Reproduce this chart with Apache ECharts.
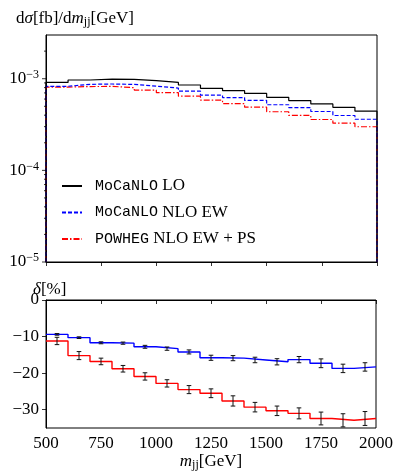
<!DOCTYPE html>
<html>
<head>
<meta charset="utf-8">
<script src="https://cdn.jsdelivr.net/npm/echarts@6/dist/echarts.min.js"></script>
<style>
  html, body { margin: 0; padding: 0; background: #ffffff; }
  #chart { width: 396px; height: 473px; }
</style>
</head>
<body>
<div id="chart"></div>
<script>
// Bin edges of the m_jj histogram (GeV)
const binEdges = [500, 600, 700, 800, 900, 1000, 1100, 1200, 1300, 1400, 1500, 1600, 1700, 1800, 1900, 2000];

// dσ/dm_jj [fb/GeV] per bin
const loXsec = [9.12e-4, 9.68e-4, 9.92e-4, 9.83e-4, 9.51e-4, 9.12e-4, 8.54e-4, 7.85e-4, 7.41e-4, 6.92e-4, 6.26e-4, 5.77e-4, 5.31e-4, 4.88e-4, 4.42e-4];
const nloEwXsec = [8.27e-4, 8.68e-4, 8.76e-4, 8.67e-4, 8.29e-4, 7.91e-4, 7.33e-4, 6.61e-4, 6.23e-4, 5.79e-4, 5.20e-4, 4.83e-4, 4.39e-4, 3.97e-4, 3.61e-4];
const powhegXsec = [8.10e-4, 8.21e-4, 8.25e-4, 7.98e-4, 7.52e-4, 7.04e-4, 6.45e-4, 5.85e-4, 5.36e-4, 4.89e-4, 4.36e-4, 3.98e-4, 3.59e-4, 3.27e-4, 2.99e-4];

// Relative corrections δ [%] with their uncertainties
const deltaNloEw = [-9.4, -10.3, -11.7, -11.8, -12.8, -13.3, -14.2, -15.8, -15.9, -16.4, -16.9, -16.3, -17.3, -18.7, -18.3];
const deltaNloEwErr = [0.23, 0.23, 0.27, 0.3, 0.4, 0.45, 0.55, 0.7, 0.7, 0.75, 0.85, 0.85, 1.2, 1.15, 1.15];
const deltaPowheg = [-11.2, -15.2, -16.8, -18.8, -20.9, -22.8, -24.5, -25.5, -27.6, -29.3, -30.3, -31.0, -32.4, -32.9, -32.4];
const deltaPowhegErr = [1.0, 1.1, 0.9, 0.9, 1.0, 1.0, 1.1, 1.2, 1.4, 1.3, 1.3, 1.5, 1.75, 1.8, 1.9];

// Log-axis ticks of the upper panel
const logMajorTicks = [1e-5, 1e-4, 1e-3];
const logMinorTicks = [2e-5, 3e-5, 4e-5, 5e-5, 6e-5, 7e-5, 8e-5, 9e-5,
                       2e-4, 3e-4, 4e-4, 5e-4, 6e-4, 7e-4, 8e-4, 9e-4, 2e-3];
const deltaTicks = [0, -10, -20, -30];

const SERIF = '"Liberation Serif", "DejaVu Serif", serif';
const MONO = '"Liberation Mono", "DejaVu Sans Mono", monospace';
const FS = 17;

// histogram outline (step) points; optional floor closes the outer edges
function stepPoints(values, floor) {
  const pts = [];
  if (floor !== undefined) pts.push([binEdges[0], floor]);
  values.forEach((v, i) => pts.push([binEdges[i], v]));
  pts.push([binEdges[binEdges.length - 1], values[values.length - 1]]);
  if (floor !== undefined) pts.push([binEdges[binEdges.length - 1], floor]);
  return pts;
}
const binCenters = binEdges.slice(0, -1).map((e, i) => (e + binEdges[i + 1]) / 2);

function errorBarItem(params, api) {
  const x = api.value(0), y = api.value(1), e = api.value(2);
  const hi = api.coord([x, y + e]);
  const lo = api.coord([x, y - e]);
  const cap = 2.3;
  const style = { stroke: '#111', lineWidth: 1 };
  return {
    type: 'group',
    children: [
      { type: 'line', shape: { x1: hi[0], y1: hi[1], x2: lo[0], y2: lo[1] }, style },
      { type: 'line', shape: { x1: hi[0] - cap, y1: hi[1], x2: hi[0] + cap, y2: hi[1] }, style },
      { type: 'line', shape: { x1: lo[0] - cap, y1: lo[1], x2: lo[0] + cap, y2: lo[1] }, style }
    ]
  };
}

function logTickItem(params, api) {
  const p = api.coord([binEdges[0], api.value(0)]);
  const len = api.value(1);
  return {
    type: 'line',
    shape: { x1: p[0] - len, y1: p[1], x2: p[0], y2: p[1] },
    style: { stroke: '#000', lineWidth: 0.8 }
  };
}

const legendText = {
  'LO': '{sp|}{tt|MoCaNLO}{rm| LO}',
  'NLO EW': '{sp|}{tt|MoCaNLO}{rm| NLO EW}',
  'PS': '{sp|}{tt|POWHEG}{rm| NLO EW + PS}'
};

const chart = echarts.init(document.getElementById('chart'), null, { renderer: 'canvas' });

chart.setOption({
  animation: false,
  backgroundColor: '#ffffff',
  textStyle: { fontFamily: SERIF },
  title: [
    {
      text: 'd{i|σ}[fb]/d{i|m}{sub|jj}[GeV]',
      left: 11, top: 4,
      textStyle: {
        fontFamily: SERIF, fontSize: FS, fontWeight: 'normal', color: '#000',
        rich: {
          i: { fontFamily: SERIF, fontSize: FS, fontStyle: 'italic', color: '#000' },
          sub: { fontFamily: SERIF, fontSize: 12, color: '#000', padding: [7, 0, 0, 0] }
        }
      }
    },
    {
      text: '{i|δ}[%]',
      left: 28, top: 276,
      textStyle: {
        fontFamily: SERIF, fontSize: FS, fontWeight: 'normal', color: '#000',
        rich: { i: { fontFamily: SERIF, fontSize: FS, fontStyle: 'italic', color: '#000' } }
      }
    }
  ],
  legend: {
    data: ['LO', 'NLO EW', 'PS'],
    orient: 'vertical',
    left: 61, top: 176,
    padding: 0,
    itemWidth: 20, itemHeight: 14,
    itemGap: 6.5,
    itemStyle: { opacity: 0 },
    formatter: name => legendText[name],
    textStyle: {
      fontFamily: SERIF, fontSize: FS, color: '#000', lineHeight: 20,
      rich: {
        sp: { width: 8 },
        tt: { fontFamily: MONO, fontSize: 15, color: '#000' },
        rm: { fontFamily: SERIF, fontSize: FS, color: '#000' }
      }
    }
  },
  grid: [
    { left: 46, right: 19, top: 35, height: 227, show: true, borderColor: '#000', borderWidth: 1, backgroundColor: 'transparent' },
    { left: 46, right: 19, top: 300, height: 128, show: true, borderColor: '#000', borderWidth: 1, backgroundColor: 'transparent' }
  ],
  xAxis: [
    {
      type: 'value', gridIndex: 0, min: 500, max: 2000, interval: 250,
      axisLine: { show: true, lineStyle: { color: '#000', width: 1 } },
      axisTick: { show: true, inside: false, length: 4, lineStyle: { color: '#000', width: 0.8 } },
      axisLabel: { show: false },
      splitLine: { show: false }
    },
    {
      type: 'value', gridIndex: 1, min: 500, max: 2000, interval: 250,
      axisLine: { show: true, lineStyle: { color: '#000', width: 1 } },
      axisTick: { show: true, inside: false, length: 4, lineStyle: { color: '#000', width: 0.8 } },
      axisLabel: {
        show: true, margin: 7, fontFamily: SERIF, fontSize: FS, color: '#000', hideOverlap: false,
        formatter: v => String(v)
      },
      splitLine: { show: false },
      name: '{i|m}{sub|jj}[GeV]',
      nameLocation: 'middle',
      nameGap: 18,
      nameTextStyle: {
        fontFamily: SERIF, fontSize: FS, color: '#000',
        rich: {
          i: { fontFamily: SERIF, fontSize: FS, fontStyle: 'italic', color: '#000' },
          sub: { fontFamily: SERIF, fontSize: 12, color: '#000', padding: [7, 0, 0, 0] }
        }
      }
    }
  ],
  yAxis: [
    {
      type: 'log', logBase: 10, gridIndex: 0, min: 1e-5, max: 3e-3,
      axisLine: { show: true, lineStyle: { color: '#000', width: 1 } },
      axisTick: { show: false },
      minorTick: { show: false },
      splitLine: { show: false },
      axisLabel: {
        show: true, margin: 7, color: '#000', hideOverlap: false,
        formatter: function (v) {
          const lg = Math.log10(v);
          const e = Math.round(lg);
          if (Math.abs(lg - e) > 1e-6) return '';
          return '{b|10}{s|−' + (-e) + '}';
        },
        rich: {
          b: { fontFamily: SERIF, fontSize: FS, color: '#000' },
          s: { fontFamily: SERIF, fontSize: 12, color: '#000', padding: [0, 0, 8, 0] }
        }
      }
    },
    {
      type: 'value', gridIndex: 1, min: -35, max: 0,
      axisLine: { show: true, lineStyle: { color: '#000', width: 1 } },
      axisTick: { show: true, inside: false, length: 4, customValues: deltaTicks, lineStyle: { color: '#000', width: 0.8 } },
      axisLabel: {
        show: true, margin: 7, customValues: deltaTicks, fontFamily: SERIF, fontSize: FS, color: '#000',
        formatter: v => (v < 0 ? '−' + (-v) : String(v))
      },
      splitLine: { show: false }
    }
  ],
  series: [
    {
      name: 'LO', type: 'line', xAxisIndex: 0, yAxisIndex: 0, step: 'end',
      symbol: 'none', data: stepPoints(loXsec, 1e-5), z: 4,
      itemStyle: { color: '#000' },
      lineStyle: { color: '#000', width: 1.2, type: 'solid' }
    },
    {
      name: 'NLO EW', type: 'line', xAxisIndex: 0, yAxisIndex: 0, step: 'end',
      symbol: 'none', data: stepPoints(nloEwXsec, 1e-5), z: 3,
      itemStyle: { color: '#0000ff' },
      lineStyle: { color: '#0000ff', width: 1.2, type: [4, 2] }
    },
    {
      name: 'PS', type: 'line', xAxisIndex: 0, yAxisIndex: 0, step: 'end',
      symbol: 'none', data: stepPoints(powhegXsec, 1e-5), z: 2,
      itemStyle: { color: '#ff0000' },
      lineStyle: { color: '#ff0000', width: 1.2, type: [6, 2, 1.5, 2] }
    },
    {
      name: 'majorTicks', type: 'custom', xAxisIndex: 0, yAxisIndex: 0,
      renderItem: logTickItem, silent: true, z: 6,
      data: logMajorTicks.map(v => [v, 4])
    },
    {
      name: 'minorTicks', type: 'custom', xAxisIndex: 0, yAxisIndex: 0,
      renderItem: logTickItem, silent: true, z: 6,
      data: logMinorTicks.map(v => [v, 2])
    },
    {
      name: 'deltaNloEw', type: 'line', xAxisIndex: 1, yAxisIndex: 1, step: 'end',
      symbol: 'none', data: stepPoints(deltaNloEw), z: 3,
      lineStyle: { color: '#0000ff', width: 1.4 }
    },
    {
      name: 'deltaPowheg', type: 'line', xAxisIndex: 1, yAxisIndex: 1, step: 'end',
      symbol: 'none', data: stepPoints(deltaPowheg), z: 3,
      lineStyle: { color: '#ff0000', width: 1.4 }
    },
    {
      name: 'errNloEw', type: 'custom', xAxisIndex: 1, yAxisIndex: 1,
      renderItem: errorBarItem, silent: true, z: 5,
      data: binCenters.map((c, i) => [c, deltaNloEw[i], deltaNloEwErr[i]])
    },
    {
      name: 'errPowheg', type: 'custom', xAxisIndex: 1, yAxisIndex: 1,
      renderItem: errorBarItem, silent: true, z: 5,
      data: binCenters.map((c, i) => [c, deltaPowheg[i], deltaPowhegErr[i]])
    }
  ]
});
</script>
</body>
</html>
